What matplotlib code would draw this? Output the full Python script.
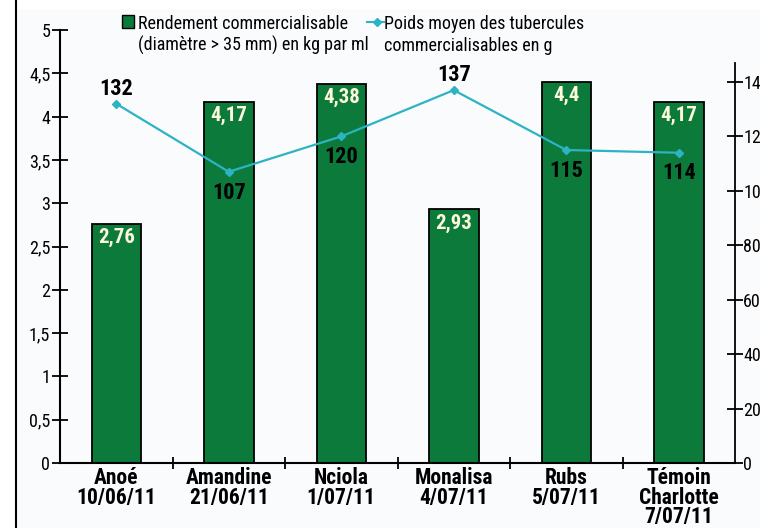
import matplotlib
matplotlib.use("Agg")
import matplotlib.pyplot as plt
from matplotlib.lines import Line2D
from matplotlib.patches import Rectangle
from matplotlib import font_manager

ttf = font_manager.fontManager.ttflist
cands = [f for f in ttf if ("Condensed" in f.fname or "Narrow" in f.fname or f.stretch in ("condensed", "semi-condensed", 400, 300))]
pref = ["Liberation Sans Narrow", "Roboto Condensed", "DejaVu Sans", "Open Sans", "Noto Sans"]
FONT, STRETCH = "DejaVu Sans", "normal"
found = False
for p in pref:
    for f in cands:
        if f.name == p:
            FONT, STRETCH = p, f.stretch
            found = True
            break
    if found:
        break
plt.rcParams['font.family'] = [FONT, 'DejaVu Sans']
plt.rcParams['font.stretch'] = STRETCH if found else "normal"

categories = ["Anoé\n10/06/11", "Amandine\n21/06/11", "Nciola\n1/07/11",
              "Monalisa\n4/07/11", "Rubs\n5/07/11", "Témoin\nCharlotte\n7/07/11"]
rendement = [2.76, 4.17, 4.38, 2.93, 4.4, 4.17]
poids = [132, 107, 120, 137, 115, 114]
poids_label_above = [True, False, False, True, False, False]
left_ticks = [0, 0.5, 1, 1.5, 2, 2.5, 3, 3.5, 4, 4.5, 5]
right_ticks = [0, 20, 40, 60, 80, 100, 120, 140]

GREEN = "#0b7a3b"
CYAN = "#2db3c4"
BG = "#fafbfd"

W, H = 760, 528
fig = plt.figure(figsize=(W / 100, H / 100), dpi=100)
fig.patch.set_facecolor(BG)
fig.add_artist(Rectangle((0, 0), 16 / W, 1, transform=fig.transFigure, color="white", zorder=-1))
fig.add_artist(Rectangle((0, 1 - 8 / H), 1, 8 / H, transform=fig.transFigure, color="white", zorder=-1))
fig.add_artist(Line2D([16 / W, 16 / W], [0, 1], transform=fig.transFigure, color="black", lw=1.5))

x0, x1 = 60, 735
y0, y1 = 463, 30
ax = fig.add_axes([x0 / W, (H - y0) / H, (x1 - x0) / W, (y0 - y1) / H])
ax.set_facecolor("none")
xs = list(range(len(categories)))
bars = ax.bar(xs, rendement, width=0.44, color=GREEN, edgecolor="black", linewidth=1.3, zorder=2)
ax.set_xlim(-0.5, len(categories) - 0.5)
ax.set_ylim(0, 5)
ax.spines["top"].set_visible(False)
ax.spines["right"].set_visible(False)
ax.spines["left"].set_linewidth(1.5)
ax.spines["bottom"].set_linewidth(1.5)
ax.set_yticks(left_ticks)
ax.set_yticklabels([("%g" % v).replace(".", ",") for v in left_ticks], fontsize=13)
ax.tick_params(axis="y", direction="inout", length=12, width=1.3, pad=1)
ax.set_xticks(xs)
ax.set_xticklabels(categories, fontsize=15.5, fontweight="bold", linespacing=0.85)
ax.tick_params(axis="x", which="major", length=0, pad=3)
ax.set_xticks([i + 0.5 for i in range(len(categories) - 1)], minor=True)
ax.tick_params(axis="x", which="minor", direction="inout", length=9, width=1.3)

for b, v in zip(bars, rendement):
    ax.annotate(("%g" % v).replace(".", ","), (b.get_x() + b.get_width() / 2, v),
                xytext=(0, -3), textcoords="offset points", ha="center", va="top",
                fontsize=15, fontweight="bold", color="#fdf8d8", zorder=5)

ax2 = ax.twinx()
ax2.set_ylim(0, 159.1)
ax2.spines["top"].set_visible(False)
ax2.spines["left"].set_visible(False)
ax2.spines["bottom"].set_visible(False)
ax2.spines["right"].set_bounds(0, 147)
ax2.spines["right"].set_linewidth(1.3)
ax2.set_yticks(right_ticks)
ax2.set_yticklabels([str(v) for v in right_ticks], fontsize=13)
ax2.tick_params(axis="y", direction="inout", length=12, width=1.3, pad=0)
ax2.plot(xs, poids, color=CYAN, lw=1.6, marker="D", ms=4, zorder=4)
for x, v, above in zip(xs, poids, poids_label_above):
    ax2.annotate(str(v), (x, v), xytext=(0, 3 if above else -7), textcoords="offset points",
                 ha="center", va="bottom" if above else "top",
                 fontsize=16, fontweight="bold", color="black", zorder=6)

# legend
fig.add_artist(Rectangle((122 / W, 1 - 28 / H), 12 / W, 13 / H, transform=fig.transFigure,
                         facecolor=GREEN, edgecolor="black", lw=1))
fig.text(138 / W, 1 - 35 / H, "Rendement commercialisable\n(diamètre > 35 mm) en kg par ml",
         ha="left", va="center", fontsize=13, linespacing=1.25)
fig.add_artist(Line2D([367 / W, 377 / W, 384 / W], [1 - 22 / H] * 3, transform=fig.transFigure,
                      color=CYAN, lw=1.5, marker="D", ms=4, markevery=[1]))
fig.text(384 / W, 1 - 35 / H, "Poids moyen des tubercules\ncommercialisables en g",
         ha="left", va="center", fontsize=13, linespacing=1.25)

fig.savefig("out.png", dpi=100, facecolor=fig.get_facecolor())
